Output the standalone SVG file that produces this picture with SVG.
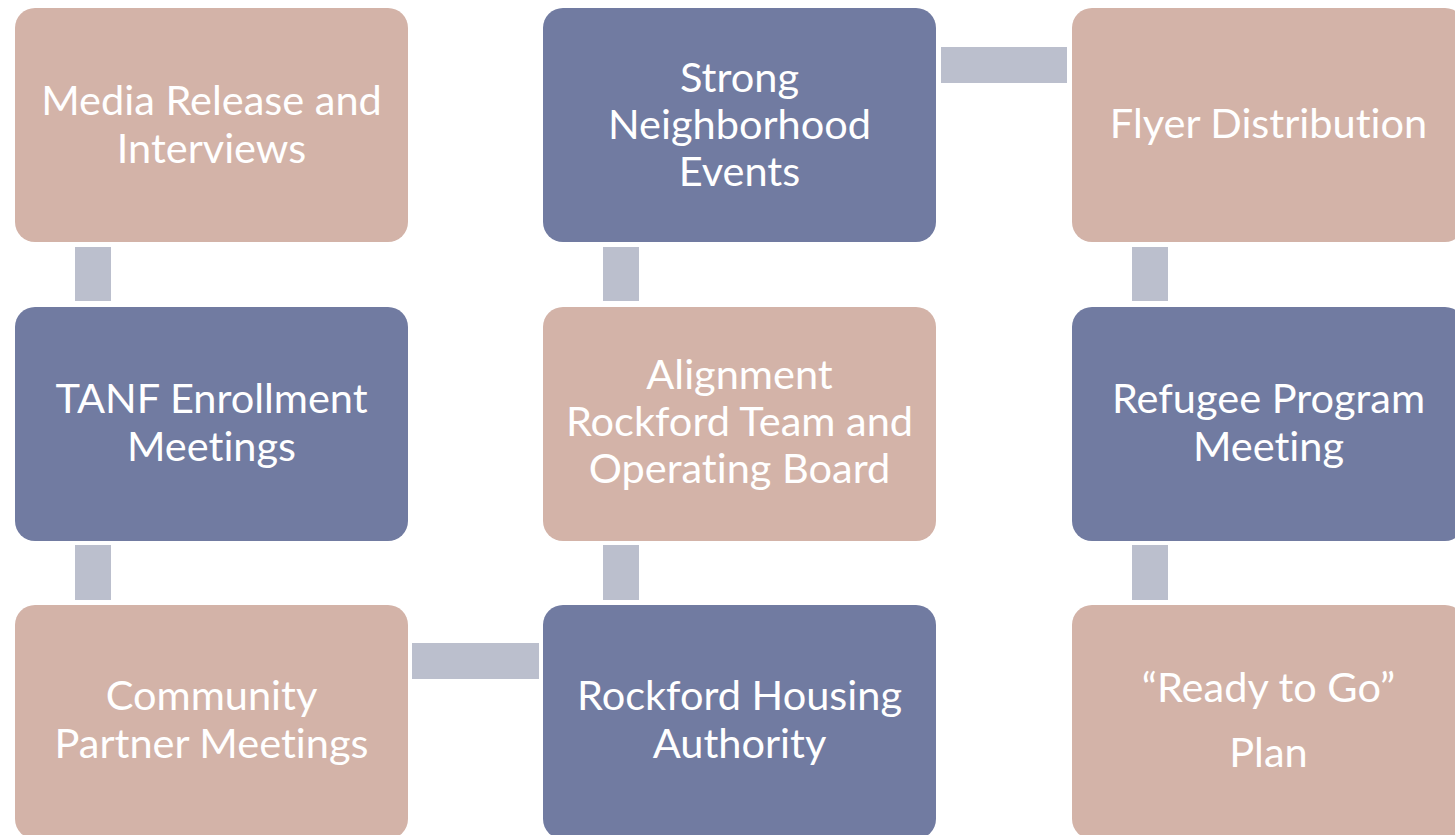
<svg xmlns="http://www.w3.org/2000/svg" width="1455" height="835" viewBox="0 0 1455 835">
  <style>
    .tan { fill: #D3B3A8; }
    .blue { fill: #717BA1; }
    .link { fill: #BBBFCD; }
    .label { fill: #FFFFFF; font-family: Lato, "Open Sans", "Liberation Sans", sans-serif; font-size: 41.5px; text-anchor: middle; font-variant-ligatures: none; }
  </style>
  <rect width="1455" height="835" fill="#FFFFFF"/>

  <g id="connectors">
    <rect class="link" x="75" y="247" width="36" height="54"/>
    <rect class="link" x="75" y="545" width="36" height="55"/>
    <rect class="link" x="603" y="247" width="36" height="54"/>
    <rect class="link" x="603" y="545" width="36" height="55"/>
    <rect class="link" x="1132" y="247" width="36" height="54"/>
    <rect class="link" x="1132" y="545" width="36" height="55"/>
    <rect class="link" x="412" y="643" width="127" height="36"/>
    <rect class="link" x="941" y="47" width="126" height="36"/>
  </g>

  <g id="media-release">
    <rect class="tan" x="15" y="8" width="393" height="234" rx="20"/>
    <text class="label" x="211.5" y="115">Media Release and</text>
    <text class="label" x="211.5" y="163">Interviews</text>
  </g>

  <g id="tanf-enrollment">
    <rect class="blue" x="15" y="307" width="393" height="234" rx="20"/>
    <text class="label" x="211.5" y="413">TANF Enrollment</text>
    <text class="label" x="211.5" y="461">Meetings</text>
  </g>

  <g id="community-partner">
    <rect class="tan" x="15" y="605" width="393" height="234" rx="20"/>
    <text class="label" x="211.5" y="710">Community</text>
    <text class="label" x="211.5" y="758">Partner Meetings</text>
  </g>

  <g id="strong-neighborhood">
    <rect class="blue" x="543" y="8" width="393" height="234" rx="20"/>
    <text class="label" x="739.5" y="92">Strong</text>
    <text class="label" x="739.5" y="139">Neighborhood</text>
    <text class="label" x="739.5" y="186">Events</text>
  </g>

  <g id="alignment-rockford">
    <rect class="tan" x="543" y="307" width="393" height="234" rx="20"/>
    <text class="label" x="739.5" y="389">Alignment</text>
    <text class="label" x="739.5" y="436">Rockford Team and</text>
    <text class="label" x="739.5" y="483">Operating Board</text>
  </g>

  <g id="rockford-housing">
    <rect class="blue" x="543" y="605" width="393" height="234" rx="20"/>
    <text class="label" x="739.5" y="710">Rockford Housing</text>
    <text class="label" x="739.5" y="758">Authority</text>
  </g>

  <g id="flyer-distribution">
    <rect class="tan" x="1072" y="8" width="393" height="234" rx="20"/>
    <text class="label" x="1268.5" y="138">Flyer Distribution</text>
  </g>

  <g id="refugee-program">
    <rect class="blue" x="1072" y="307" width="393" height="234" rx="20"/>
    <text class="label" x="1268.5" y="413">Refugee Program</text>
    <text class="label" x="1268.5" y="461">Meeting</text>
  </g>

  <g id="ready-to-go">
    <rect class="tan" x="1072" y="605" width="393" height="234" rx="20"/>
    <text class="label" x="1268.5" y="702">“Ready to Go”</text>
    <text class="label" x="1268.5" y="767">Plan</text>
  </g>
</svg>
